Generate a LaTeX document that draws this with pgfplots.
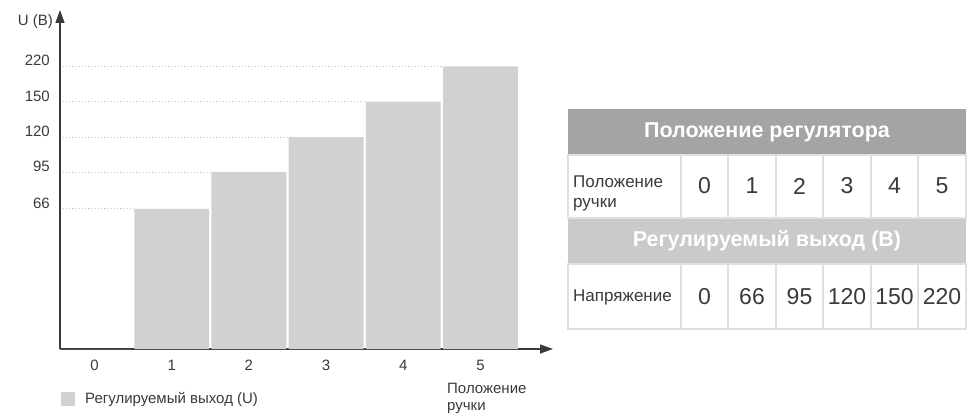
\documentclass[border=0pt]{standalone}
\usepackage{fontspec}
\setmainfont{Liberation Sans}
\usepackage{pgfplots}
\pgfplotsset{compat=1.18}
\usetikzlibrary{arrows.meta}

\definecolor{barfill}{HTML}{D1D1D3}
\definecolor{axisgray}{HTML}{3A3A3A}
\definecolor{gridgray}{HTML}{C8C8C8}
\definecolor{headdark}{HTML}{A4A4A6}
\definecolor{headlight}{HTML}{CACACC}
\definecolor{cellline}{HTML}{E0E0E0}
\definecolor{txt}{HTML}{3A3A3A}

\begin{document}
\begin{tikzpicture}[x=1pt,y=1pt]
\useasboundingbox (0,0) rectangle (971,413);
\begin{axis}[
  at={(60pt,64pt)}, anchor=south west,
  scale only axis, width=493pt, height=339pt,
  xmin=-0.447, xmax=5.94,
  ymin=0, ymax=331.4,
  % the chart spaces its levels evenly, not by value
  y coord trafo/.code={\pgfmathparse{#1<=66 ? #1*2.12879 : (#1<=95 ? 140.5+(#1-66)*1.27586 : (#1<=120 ? 177.5+(#1-95)*1.4 : (#1<=150 ? 212.5+(#1-120)*1.18333 : 248+(#1-150)*0.50714)))}},
  axis lines=left,
  axis line style={axisgray, line width=1.4pt, -{Triangle[length=13pt,width=9pt]}},
  xtick={0,1,2,3,4,5},
  ytick={66,95,120,150,220}, yticklabels={66,95,120,150,220},
  major tick length=0pt,
  tick label style={font=\fontsize{15}{17}\selectfont, text=txt, inner sep=0pt},
  /pgf/number format/assume math mode=true,
  yticklabel style={anchor=base east, xshift=-10pt, yshift=0.5pt},
  xticklabel style={anchor=base, yshift=-21.4pt},
  every axis y label/.style={at={(rel axis cs:-0.0142,0.9546)}, anchor=base east, inner sep=0pt,
    font=\fontsize{15}{17}\selectfont, text=txt},
  ylabel={U (В)},
  every axis x label/.style={at={(rel axis cs:0.785,-0.1005)}, anchor=north west, align=left,
    inner sep=0pt, font=\fontsize{15}{16.5}\selectfont, text=txt},
  xlabel={Положение\\ручки},
  clip=false,
  legend style={at={(0.002,-0.148)}, anchor=west, draw=none, fill=none, inner sep=0pt,
    font=\fontsize{15}{17}\selectfont, nodes={text=txt, inner sep=0pt}},
]
\addplot[gridgray, dash pattern=on 1.2pt off 2pt, line width=0.9pt, forget plot] coordinates {(-0.41,66) (0.515,66)};
\addplot[gridgray, dash pattern=on 1.2pt off 2pt, line width=0.9pt, forget plot] coordinates {(-0.41,95) (1.515,95)};
\addplot[gridgray, dash pattern=on 1.2pt off 2pt, line width=0.9pt, forget plot] coordinates {(-0.41,120) (2.515,120)};
\addplot[gridgray, dash pattern=on 1.2pt off 2pt, line width=0.9pt, forget plot] coordinates {(-0.41,150) (3.515,150)};
\addplot[gridgray, dash pattern=on 1.2pt off 2pt, line width=0.9pt, forget plot] coordinates {(-0.41,220) (4.515,220)};
\addplot[ybar, bar width=0.97, fill=barfill, draw=none,
  legend image code/.code={\fill[barfill] (0pt,-7pt) rectangle (14pt,7pt); \path (24pt,0pt);}]
  coordinates {(0,0) (1,66) (2,95) (3,120) (4,150) (5,220)};
\addlegendentry{Регулируемый выход (U)}
\end{axis}

% table on the right
\fill[headdark] (568,258) rectangle (966,304);
\fill[headlight] (568,149) rectangle (966,195);
\draw[cellline, line width=1.2pt] (568,195) rectangle (966,258);
\draw[cellline, line width=1.2pt] (568,84) rectangle (966,149);
\foreach \x in {681,728,776,823,871,918} {
  \draw[cellline, line width=1.2pt] (\x,195) -- (\x,258);
  \draw[cellline, line width=1.2pt] (\x,84) -- (\x,149);
}
\node[text=white, font=\bfseries\fontsize{21.5}{24}\selectfont] at (767,281) {Положение регулятора};
\node[text=white, font=\bfseries\fontsize{21.5}{24}\selectfont] at (767,172) {Регулируемый выход (В)};
\node[anchor=west, align=left, inner sep=0pt, text=txt, font=\fontsize{17}{20.5}\selectfont] at (573,219.5) {Положение\\ручки};
\node[anchor=west, inner sep=0pt, text=txt, font=\fontsize{17}{20}\selectfont] at (573,116) {Напряжение};
\foreach \x/\a/\b in {704.5/0/0, 752/1/66, 799.5/2/95, 847/3/120, 894.5/4/150, 942/5/220} {
  \node[text=txt, font=\fontsize{23}{26}\selectfont] at (\x,227) {\a};
  \node[text=txt, font=\fontsize{23}{26}\selectfont] at (\x,116) {\b};
}
\end{tikzpicture}
\end{document}
